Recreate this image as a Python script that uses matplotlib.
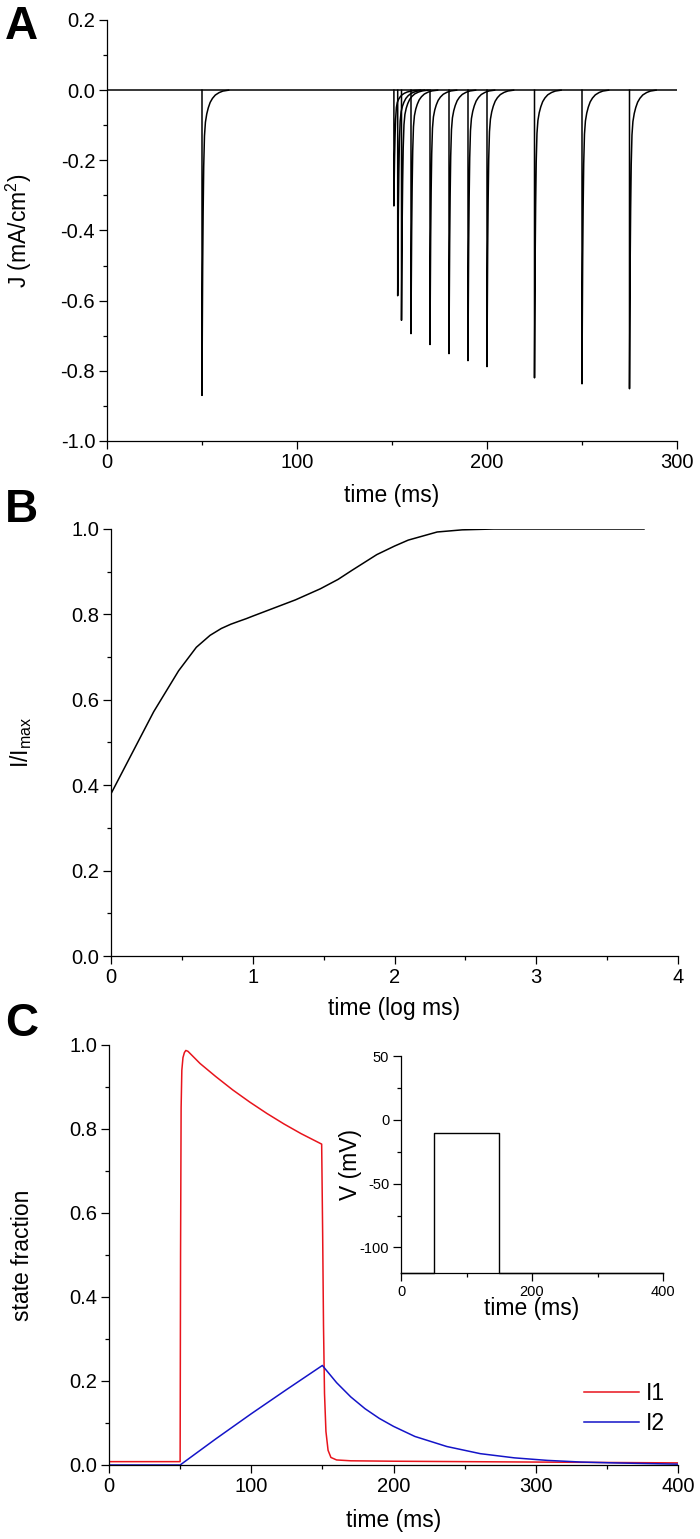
import numpy as np
import matplotlib
matplotlib.use("Agg")
import matplotlib.pyplot as plt
from matplotlib.ticker import MultipleLocator

plt.rcParams['font.family'] = ['Liberation Sans', 'DejaVu Sans']
plt.rcParams['mathtext.default'] = 'regular'
plt.rcParams['axes.unicode_minus'] = False

# panel A: conditioning pulse and test pulses after 150 ms
cond_time = 50
cond_peak = -0.87
pulse_end = 150
test_intervals = [1, 3, 5, 10, 20, 30, 40, 50, 75, 100, 125]
test_peaks = [-0.33, -0.586, -0.656, -0.694, -0.725, -0.751, -0.771, -0.788, -0.82, -0.837, -0.851]
# shape of one current transient (time after onset, fraction of peak)
kern_dt = [0, 0.15, 0.35, 0.6, 0.9, 1.3, 1.8, 2.5, 3.3, 4.3, 5.5, 7, 9, 11, 14]
kern_frac = [1, 0.8, 0.58, 0.40, 0.25, 0.15, 0.105, 0.078, 0.058, 0.04, 0.027, 0.016, 0.008, 0.003, 0]

# panel B: recovery vs log time
b_logt = [0, 0.301, 0.477, 0.602, 0.699, 0.778, 0.845, 0.903, 0.954, 1.0, 1.301, 1.477,
          1.602, 1.699, 1.875, 2.0, 2.097, 2.301, 2.477, 2.699, 3.0, 3.301, 3.76]
b_frac = [0.38, 0.572, 0.668, 0.723, 0.751, 0.767, 0.777, 0.784, 0.790, 0.796, 0.834, 0.860,
          0.882, 0.903, 0.940, 0.960, 0.974, 0.993, 0.998, 1.0, 1.0, 1.0, 1.0]

# panel C: state fractions
i1_t = [0, 50, 50.3, 50.7, 51.2, 52, 53, 54, 55.5, 64, 75, 87, 99, 111, 123, 135, 149.5,
        150.2, 150.8, 151.5, 152.5, 154, 156, 160, 170, 200, 300, 400]
i1_v = [0.008, 0.008, 0.5, 0.85, 0.94, 0.97, 0.982, 0.987, 0.985, 0.956, 0.925, 0.893, 0.864,
        0.837, 0.812, 0.789, 0.764, 0.55, 0.33, 0.17, 0.08, 0.035, 0.018, 0.012, 0.010, 0.009,
        0.007, 0.005]
i2_t = [0, 50, 75, 100, 125, 150, 160, 170, 180, 190, 200, 215, 237.5, 261, 285, 308, 332, 355, 400]
i2_v = [0, 0, 0.062, 0.122, 0.180, 0.237, 0.196, 0.162, 0.134, 0.111, 0.092, 0.068, 0.044,
        0.027, 0.017, 0.011, 0.007, 0.005, 0.002]

# inset: voltage protocol
v_t = [0, 50, 50, 150, 150, 400]
v_mv = [-120, -120, -10, -10, -120, -120]

W, H = 700, 1539
fig = plt.figure(figsize=(W / 100, H / 100), dpi=100)

TICK = 14.5
LAB = 16.5


def px_axes(l, t, r, b):
    return fig.add_axes([l / W, 1 - b / H, (r - l) / W, (b - t) / H])


def style(ax, ts=TICK):
    for s in ['top', 'right']:
        ax.spines[s].set_visible(False)
    for s in ['left', 'bottom']:
        ax.spines[s].set_linewidth(0.9)
    ax.tick_params(which='major', direction='out', length=5.5, width=0.9, labelsize=ts, pad=3)
    ax.tick_params(which='minor', direction='out', length=3.2, width=0.9)


# A
axA = px_axes(107, 20, 677, 441)
style(axA)
axA.plot([0, 300], [0, 0], color='k', lw=1.1)
kdt = np.array(kern_dt)
kfr = np.array(kern_frac)
for t0, pk in [(cond_time, cond_peak)] + [(pulse_end + d, p) for d, p in zip(test_intervals, test_peaks)]:
    axA.plot(np.r_[t0, t0 + kdt], np.r_[0, pk * kfr], color='k', lw=1.1)
axA.set_xlim(0, 300)
axA.set_ylim(-1.0, 0.2)
axA.xaxis.set_major_locator(MultipleLocator(100))
axA.xaxis.set_minor_locator(MultipleLocator(50))
axA.yaxis.set_major_locator(MultipleLocator(0.2))
axA.yaxis.set_minor_locator(MultipleLocator(0.1))
axA.yaxis.set_major_formatter(lambda v, p: f'{v:.1f}')
axA.set_xlabel('time (ms)', fontsize=LAB)
axA.set_ylabel('J (mA/cm$^{2}$)', fontsize=LAB)
axA.xaxis.set_label_coords(0.5, -0.103)
axA.yaxis.set_label_coords(-0.128, 0.5)

# B
axB = px_axes(111, 529, 678, 956)
style(axB)
axB.plot(b_logt, b_frac, color='k', lw=1.1)
axB.set_xlim(0, 4)
axB.set_ylim(0, 1.0)
axB.xaxis.set_major_locator(MultipleLocator(1))
axB.xaxis.set_minor_locator(MultipleLocator(0.5))
axB.yaxis.set_major_locator(MultipleLocator(0.2))
axB.yaxis.set_minor_locator(MultipleLocator(0.1))
axB.yaxis.set_major_formatter(lambda v, p: f'{v:.1f}')
axB.set_xlabel('time (log ms)', fontsize=LAB)
axB.set_ylabel('I/I$_{max}$', fontsize=LAB)
axB.xaxis.set_label_coords(0.5, -0.097)
axB.yaxis.set_label_coords(-0.136, 0.5)

# C
axC = px_axes(109, 1045, 678, 1465)
style(axC)
axC.plot(i1_t, i1_v, color='#e8141c', lw=1.1, label='I1')
axC.plot(i2_t, i2_v, color='#1414c8', lw=1.1, label='I2')
axC.set_xlim(0, 400)
axC.set_ylim(0, 1.0)
axC.xaxis.set_major_locator(MultipleLocator(100))
axC.xaxis.set_minor_locator(MultipleLocator(50))
axC.yaxis.set_major_locator(MultipleLocator(0.2))
axC.yaxis.set_minor_locator(MultipleLocator(0.1))
axC.yaxis.set_major_formatter(lambda v, p: f'{v:.1f}')
axC.set_xlabel('time (ms)', fontsize=LAB)
axC.set_ylabel('state fraction', fontsize=LAB)
axC.xaxis.set_label_coords(0.5, -0.105)
axC.yaxis.set_label_coords(-0.132, 0.5)
axC.legend(loc='lower right', bbox_to_anchor=(0.993, 0.05), borderaxespad=0, frameon=False,
           fontsize=LAB, handlelength=2.4, labelspacing=0.3, handletextpad=0.3)

# inset
axI = px_axes(401, 1056, 663, 1273)
style(axI, ts=10.5)
axI.plot(v_t, v_mv, color='k', lw=1.0, clip_on=False)
axI.set_xlim(0, 400)
axI.set_ylim(-120, 50)
axI.xaxis.set_major_locator(MultipleLocator(200))
axI.xaxis.set_minor_locator(MultipleLocator(100))
axI.yaxis.set_major_locator(MultipleLocator(50))
axI.yaxis.set_minor_locator(MultipleLocator(25))
axI.set_xlabel('time (ms)', fontsize=LAB)
axI.set_ylabel('V (mV)', fontsize=LAB)
axI.xaxis.set_label_coords(0.5, -0.11)
axI.yaxis.set_label_coords(-0.15, 0.5)

# panel letters
for lab, y in [('A', 39), ('B', 522), ('C', 1036)]:
    fig.text(5 / W, 1 - y / H, lab, fontsize=33, fontweight='bold', ha='left', va='baseline')

fig.savefig('out.png', dpi=100)
